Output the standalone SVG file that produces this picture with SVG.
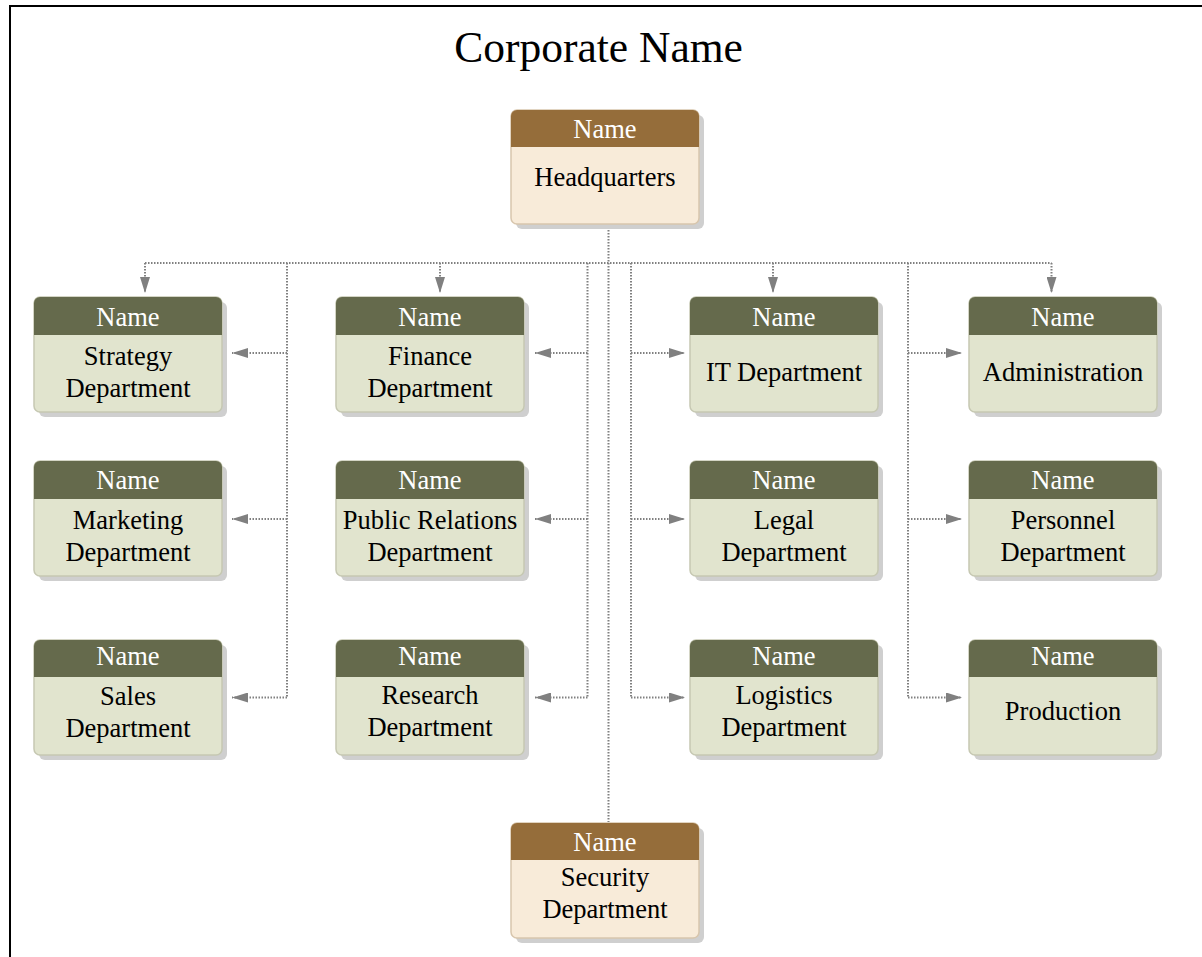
<svg xmlns="http://www.w3.org/2000/svg" width="1202" height="957" viewBox="0 0 1202 957">
<style>
.sh{fill:#cfcfcf}
.gh{fill:#656A4C}
.gb{fill:#E1E4CE;stroke:#c6c8b2;stroke-width:1.5}
.bh{fill:#956D3A}
.bb{fill:#F8EBD9;stroke:#d8c6ad;stroke-width:1.5}
.hn{font-family:"Liberation Serif","Times New Roman",serif;font-size:26.5px;fill:#ffffff;text-anchor:middle}
.bt{font-family:"Liberation Serif","Times New Roman",serif;font-size:26.5px;fill:#000000;text-anchor:middle}
.ln{fill:none;stroke:#808080;stroke-width:2;stroke-dasharray:1.5 1.5}
.ar{fill:none;stroke:#808080;stroke-width:2;stroke-dasharray:1.5 1.5;marker-end:url(#ah)}
</style>
<defs>
<marker id="ah" markerUnits="userSpaceOnUse" viewBox="0 0 16 10" refX="16" refY="5" markerWidth="16" markerHeight="10" orient="auto">
<path d="M0,0 L16,5 L0,10 z" fill="#808080"/>
</marker>
</defs>
<rect x="0" y="0" width="1202" height="957" fill="#ffffff"/>
<rect x="10" y="6" width="1300" height="1100" fill="none" stroke="#000000" stroke-width="2"/>
<text x="598.5" y="62" font-family="'Liberation Serif','Times New Roman',serif" font-size="43.5" text-anchor="middle" fill="#000000">Corporate Name</text>

<g id="connectors">
<path class="ln" d="M608.5 224 V822"/>
<path class="ln" d="M145 263 H1051.5"/>
<path class="ar" d="M145 263 V293"/>
<path class="ar" d="M440 263 V293"/>
<path class="ar" d="M773 263 V293"/>
<path class="ar" d="M1051.5 263 V293"/>
<path class="ln" d="M287 263 V697.5"/>
<path class="ar" d="M287 353 H232"/>
<path class="ar" d="M287 519 H232"/>
<path class="ar" d="M287 697.5 H232"/>
<path class="ln" d="M587.5 263 V697.5"/>
<path class="ar" d="M587.5 353 H535"/>
<path class="ar" d="M587.5 519 H535"/>
<path class="ar" d="M587.5 697.5 H535"/>
<path class="ln" d="M631 263 V697.5"/>
<path class="ar" d="M631 353 H685"/>
<path class="ar" d="M631 519 H685"/>
<path class="ar" d="M631 697.5 H685"/>
<path class="ln" d="M908 263 V697.5"/>
<path class="ar" d="M908 353 H962"/>
<path class="ar" d="M908 519 H962"/>
<path class="ar" d="M908 697.5 H962"/>
</g>

<g id="hq">
<rect class="sh" x="516" y="115" width="188" height="114" rx="6"/>
<rect class="bb" x="511" y="110" width="188" height="114" rx="6"/>
<path class="bh" d="M511 147 V116 a6 6 0 0 1 6 -6 H693 a6 6 0 0 1 6 6 V147 z"/>
<text class="hn" x="605" y="138">Name</text>
<text class="bt" x="605" y="186">Headquarters</text>
</g>

<g id="strategy">
<rect class="sh" x="39" y="302" width="188" height="115" rx="6"/>
<rect class="gb" x="34" y="297" width="188" height="115" rx="6"/>
<path class="gh" d="M34 335 V303 a6 6 0 0 1 6 -6 H216 a6 6 0 0 1 6 6 V335 z"/>
<text class="hn" x="128" y="326">Name</text>
<text class="bt" x="128" y="365">Strategy</text>
<text class="bt" x="128" y="397">Department</text>
</g>

<g id="finance">
<rect class="sh" x="341" y="302" width="188" height="115" rx="6"/>
<rect class="gb" x="336" y="297" width="188" height="115" rx="6"/>
<path class="gh" d="M336 335 V303 a6 6 0 0 1 6 -6 H518 a6 6 0 0 1 6 6 V335 z"/>
<text class="hn" x="430" y="326">Name</text>
<text class="bt" x="430" y="365">Finance</text>
<text class="bt" x="430" y="397">Department</text>
</g>

<g id="it">
<rect class="sh" x="695" y="302" width="188" height="115" rx="6"/>
<rect class="gb" x="690" y="297" width="188" height="115" rx="6"/>
<path class="gh" d="M690 335 V303 a6 6 0 0 1 6 -6 H872 a6 6 0 0 1 6 6 V335 z"/>
<text class="hn" x="784" y="326">Name</text>
<text class="bt" x="784" y="381">IT Department</text>
</g>

<g id="administration">
<rect class="sh" x="974" y="302" width="188" height="115" rx="6"/>
<rect class="gb" x="969" y="297" width="188" height="115" rx="6"/>
<path class="gh" d="M969 335 V303 a6 6 0 0 1 6 -6 H1151 a6 6 0 0 1 6 6 V335 z"/>
<text class="hn" x="1063" y="326">Name</text>
<text class="bt" x="1063" y="381">Administration</text>
</g>

<g id="marketing">
<rect class="sh" x="39" y="466" width="188" height="115" rx="6"/>
<rect class="gb" x="34" y="461" width="188" height="115" rx="6"/>
<path class="gh" d="M34 499 V467 a6 6 0 0 1 6 -6 H216 a6 6 0 0 1 6 6 V499 z"/>
<text class="hn" x="128" y="489">Name</text>
<text class="bt" x="128" y="529">Marketing</text>
<text class="bt" x="128" y="561">Department</text>
</g>

<g id="public-relations">
<rect class="sh" x="341" y="466" width="188" height="115" rx="6"/>
<rect class="gb" x="336" y="461" width="188" height="115" rx="6"/>
<path class="gh" d="M336 499 V467 a6 6 0 0 1 6 -6 H518 a6 6 0 0 1 6 6 V499 z"/>
<text class="hn" x="430" y="489">Name</text>
<text class="bt" x="430" y="529">Public Relations</text>
<text class="bt" x="430" y="561">Department</text>
</g>

<g id="legal">
<rect class="sh" x="695" y="466" width="188" height="115" rx="6"/>
<rect class="gb" x="690" y="461" width="188" height="115" rx="6"/>
<path class="gh" d="M690 499 V467 a6 6 0 0 1 6 -6 H872 a6 6 0 0 1 6 6 V499 z"/>
<text class="hn" x="784" y="489">Name</text>
<text class="bt" x="784" y="529">Legal</text>
<text class="bt" x="784" y="561">Department</text>
</g>

<g id="personnel">
<rect class="sh" x="974" y="466" width="188" height="115" rx="6"/>
<rect class="gb" x="969" y="461" width="188" height="115" rx="6"/>
<path class="gh" d="M969 499 V467 a6 6 0 0 1 6 -6 H1151 a6 6 0 0 1 6 6 V499 z"/>
<text class="hn" x="1063" y="489">Name</text>
<text class="bt" x="1063" y="529">Personnel</text>
<text class="bt" x="1063" y="561">Department</text>
</g>

<g id="sales">
<rect class="sh" x="39" y="645" width="188" height="115" rx="6"/>
<rect class="gb" x="34" y="640" width="188" height="115" rx="6"/>
<path class="gh" d="M34 677 V646 a6 6 0 0 1 6 -6 H216 a6 6 0 0 1 6 6 V677 z"/>
<text class="hn" x="128" y="665">Name</text>
<text class="bt" x="128" y="705">Sales</text>
<text class="bt" x="128" y="737">Department</text>
</g>

<g id="research">
<rect class="sh" x="341" y="645" width="188" height="115" rx="6"/>
<rect class="gb" x="336" y="640" width="188" height="115" rx="6"/>
<path class="gh" d="M336 677 V646 a6 6 0 0 1 6 -6 H518 a6 6 0 0 1 6 6 V677 z"/>
<text class="hn" x="430" y="665">Name</text>
<text class="bt" x="430" y="704">Research</text>
<text class="bt" x="430" y="736">Department</text>
</g>

<g id="logistics">
<rect class="sh" x="695" y="645" width="188" height="115" rx="6"/>
<rect class="gb" x="690" y="640" width="188" height="115" rx="6"/>
<path class="gh" d="M690 677 V646 a6 6 0 0 1 6 -6 H872 a6 6 0 0 1 6 6 V677 z"/>
<text class="hn" x="784" y="665">Name</text>
<text class="bt" x="784" y="704">Logistics</text>
<text class="bt" x="784" y="736">Department</text>
</g>

<g id="production">
<rect class="sh" x="974" y="645" width="188" height="115" rx="6"/>
<rect class="gb" x="969" y="640" width="188" height="115" rx="6"/>
<path class="gh" d="M969 677 V646 a6 6 0 0 1 6 -6 H1151 a6 6 0 0 1 6 6 V677 z"/>
<text class="hn" x="1063" y="665">Name</text>
<text class="bt" x="1063" y="720">Production</text>
</g>

<g id="security">
<rect class="sh" x="516" y="828" width="188" height="115" rx="6"/>
<rect class="bb" x="511" y="823" width="188" height="115" rx="6"/>
<path class="bh" d="M511 860 V829 a6 6 0 0 1 6 -6 H693 a6 6 0 0 1 6 6 V860 z"/>
<text class="hn" x="605" y="851">Name</text>
<text class="bt" x="605" y="886">Security</text>
<text class="bt" x="605" y="918">Department</text>
</g>
</svg>
